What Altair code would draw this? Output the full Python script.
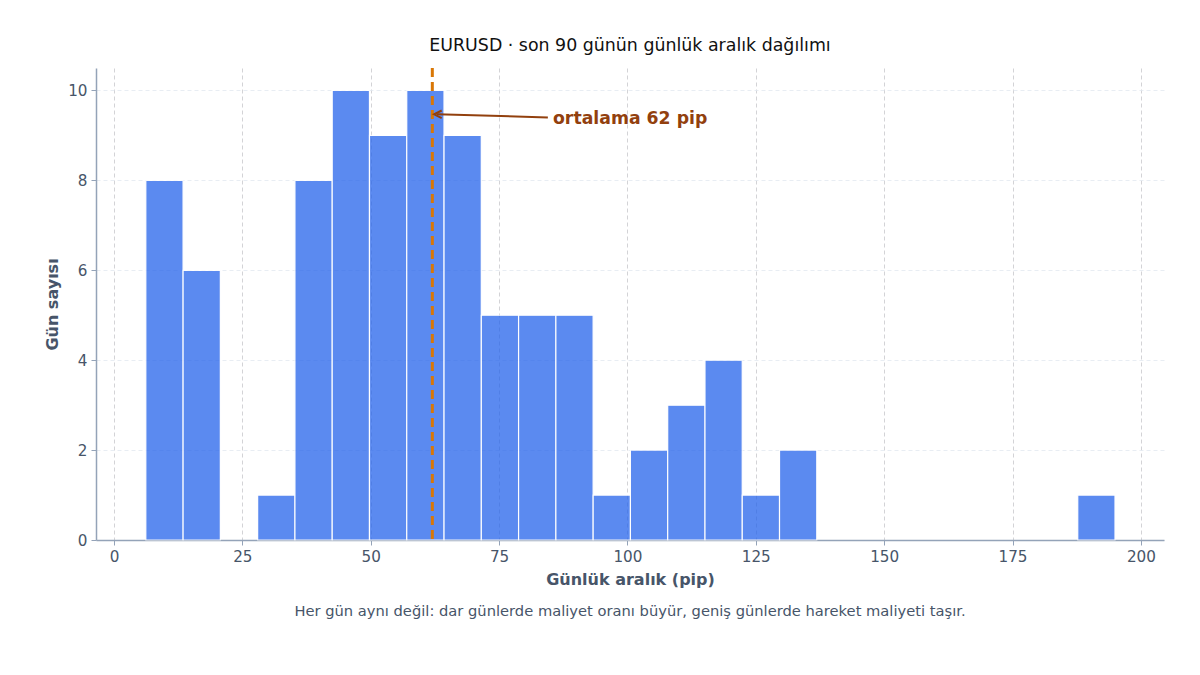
import altair as alt
import pandas as pd

# histogram bins (pip) and day counts
bin_lo = [6.2, 13.46, 20.72, 27.98, 35.24, 42.5, 49.76, 57.02, 64.28, 71.54,
          78.8, 86.06, 93.32, 100.58, 107.84, 115.1, 122.36, 129.62, 136.88,
          144.14, 151.4, 158.66, 165.92, 173.18, 180.44, 187.7]
bin_hi = [13.46, 20.72, 27.98, 35.24, 42.5, 49.76, 57.02, 64.28, 71.54, 78.8,
          86.06, 93.32, 100.58, 107.84, 115.1, 122.36, 129.62, 136.88, 144.14,
          151.4, 158.66, 165.92, 173.18, 180.44, 187.7, 194.96]
counts = [8, 6, 0, 1, 8, 10, 9, 10, 9, 5, 5, 5, 1, 2, 3, 4, 1, 2, 0,
          0, 0, 0, 0, 0, 0, 1]

mean_pip = 62
arrow_tip = (62.9, 9.47)
arrow_tail = (84.5, 9.4)
label_txt = "ortalama 62 pip"

title_txt = "EURUSD · son 90 günün günlük aralık dağılımı"
caption_txt = ("Her gün aynı değil: dar günlerde maliyet oranı büyür, "
               "geniş günlerde hareket maliyeti taşır.")

W, H = 1068, 472
FONT = "DejaVu Sans"

hist = pd.DataFrame({"lo": bin_lo, "hi": bin_hi, "n": counts})

xs = alt.Scale(domain=[-3.5, 204.5], nice=False, zero=False)
ys = alt.Scale(domain=[0, 10.5], nice=False)

bars = alt.Chart(hist).transform_filter("datum.n > 0").mark_bar(
    color="#2563eb", opacity=0.75, stroke="white", strokeWidth=1.2
).encode(
    x=alt.X("lo:Q", scale=xs, title="Günlük aralık (pip)",
            axis=alt.Axis(values=[0, 25, 50, 75, 100, 125, 150, 175, 200],
                          grid=True, gridColor="#c8c8cc", gridDash=[4, 3],
                          gridWidth=0.8)),
    x2="hi:Q",
    y=alt.Y("n:Q", scale=ys, title="Gün sayısı",
            axis=alt.Axis(values=[0, 2, 4, 6, 8, 10], grid=True,
                          gridColor="#e2e8f0", gridDash=[4, 3],
                          gridWidth=0.8)),
    y2=alt.datum(0),
)

mean_df = pd.DataFrame({"m": [mean_pip]})
mean_line = alt.Chart(mean_df).mark_rule(
    color="#d97706", strokeWidth=3, strokeDash=[9, 5]
).encode(x=alt.X("m:Q", scale=xs), y=alt.value(0), y2=alt.value(H))

arr_df = pd.DataFrame({"x": [arrow_tail[0]], "y": [arrow_tail[1]],
                       "x2": [arrow_tip[0]], "y2": [arrow_tip[1]]})
arrow_line = alt.Chart(arr_df).mark_rule(color="#92400e", strokeWidth=2).encode(
    x=alt.X("x:Q", scale=xs), y=alt.Y("y:Q", scale=ys),
    x2="x2:Q", y2="y2:Q",
)
head_df = pd.DataFrame({"x": [arrow_tip[0]], "y": [arrow_tip[1]]})
arrow_head = alt.Chart(head_df).mark_point(
    shape="M 1 -0.8 L -0.6 0 L 1 0.8", filled=False, stroke="#92400e",
    strokeWidth=2, size=90, opacity=1
).encode(x=alt.X("x:Q", scale=xs), y=alt.Y("y:Q", scale=ys))

lab_df = pd.DataFrame({"x": [arrow_tail[0] + 1], "y": [arrow_tail[1] - 0.04],
                       "t": [label_txt]})
label = alt.Chart(lab_df).mark_text(
    align="left", baseline="middle", font=FONT, fontSize=17.3,
    fontWeight="bold", color="#92400e"
).encode(x=alt.X("x:Q", scale=xs), y=alt.Y("y:Q", scale=ys), text="t:N")

cap_df = pd.DataFrame({"t": [caption_txt]})
caption = alt.Chart(cap_df).mark_text(
    align="center", baseline="middle", font=FONT, fontSize=14.7,
    color="#475569"
).encode(x=alt.value(W / 2), y=alt.value(H + 72), text="t:N")

chart = alt.layer(bars, mean_line, arrow_line, arrow_head, label, caption).properties(
    width=W, height=H,
    title=alt.TitleParams(title_txt, font=FONT, fontSize=17.4,
                          fontWeight="normal", color="#111111", offset=12),
    autosize=alt.AutoSizeParams(type="none"),
    padding={"left": 88, "top": 60, "right": 28, "bottom": 100},
).configure_view(stroke=None).configure_axis(
    domainColor="#94a3b8", domainWidth=1.5,
    tickColor="#94a3b8", tickSize=5, tickWidth=1,
    labelFont=FONT, labelFontSize=15.2, labelColor="#475569", labelPadding=4,
    titleFont=FONT, titleFontSize=16, titleFontWeight="bold",
    titleColor="#475569",
).configure_axisX(titlePadding=7).configure_axisY(titlePadding=7)

chart.save("out.html", embed_options={"renderer": "svg", "actions": False})
